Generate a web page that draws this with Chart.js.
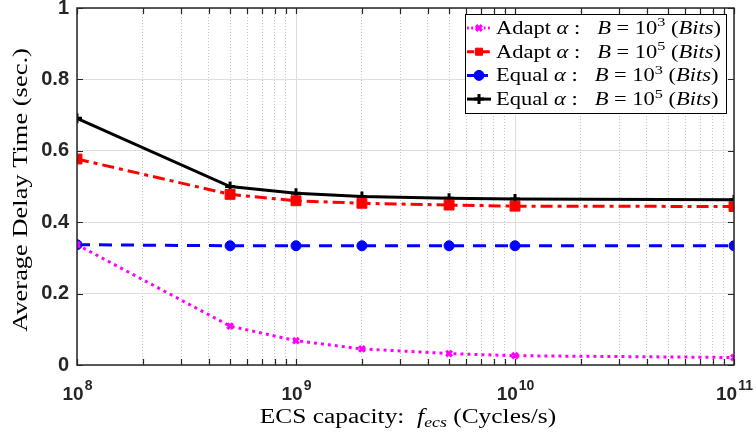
<!DOCTYPE html>
<html>
<head>
<meta charset="utf-8">
<script src="https://cdn.jsdelivr.net/npm/chart.js@4.4.1/dist/chart.umd.min.js"></script>
<style>
  html, body { margin: 0; padding: 0; background: #fff; }
  #wrap { width: 756px; height: 440px; }
</style>
</head>
<body>
<div id="wrap"><canvas id="delayChart" width="756" height="440"></canvas></div>
<script>
// ECS capacity (cycles/s) and average delay (sec.)
var capacity = [1e8, 5e8, 1e9, 2e9, 5e9, 1e10, 1e11];
var adaptB3 = [0.337, 0.109, 0.068, 0.045, 0.032, 0.026, 0.021];
var adaptB5 = [0.577, 0.478, 0.460, 0.453, 0.448, 0.445, 0.444];
var equalB3 = [0.337, 0.334, 0.334, 0.334, 0.334, 0.334, 0.334];
var equalB5 = [0.691, 0.500, 0.481, 0.472, 0.467, 0.465, 0.463];

var xDecades = [1e8, 1e9, 1e10, 1e11];
var yTicks = [0, 0.2, 0.4, 0.6, 0.8, 1];

var seriesNames = ["Adapt", "Adapt", "Equal", "Equal"];
var seriesExp = ["3", "5", "3", "5"];

var axisInk = "#262626";
var serif = "'Liberation Serif', 'DejaVu Serif', serif";
var sans = "'Liberation Sans', Arial, sans-serif";

function pts(vals) {
  return capacity.map(function (c, i) { return { x: c, y: vals[i] }; });
}

// all x tick positions: decades plus 2..9 minors
var xAllTicks = [];
xDecades.forEach(function (d, k) {
  xAllTicks.push(d);
  if (k < xDecades.length - 1) {
    for (var m = 2; m <= 9; m++) xAllTicks.push(d * m);
  }
});

function isDecade(v) {
  var l = Math.log10(v);
  return Math.abs(l - Math.round(l)) < 1e-9;
}

var datasets = [
  {
    data: pts(adaptB3), borderColor: "#ff00ff", backgroundColor: "#ff00ff",
    borderWidth: 3, borderDash: [3, 4], pointStyle: "crossRot",
    pointRadius: 4, pointBorderWidth: 3
  },
  {
    data: pts(adaptB5), borderColor: "#ff0000", backgroundColor: "#ff0000",
    borderWidth: 3, borderDash: [12, 5, 4, 5], pointStyle: "rect",
    pointRadius: 7, pointBorderWidth: 1
  },
  {
    data: pts(equalB3), borderColor: "#0000ff", backgroundColor: "#0000ff",
    borderWidth: 3, borderDash: [13, 9], pointStyle: "circle",
    pointRadius: 5, pointBorderWidth: 1
  },
  {
    data: pts(equalB5), borderColor: "#000000", backgroundColor: "#000000",
    borderWidth: 3, pointStyle: "cross",
    pointRadius: 5, pointBorderWidth: 3
  }
];

// draw a line of mixed-style text runs, stretched horizontally by sx
function drawRuns(ctx, runs, x, y, size, align, sx) {
  sx = sx || 1;
  function fontFor(style) {
    if (style === "italic") return "italic " + size + "px " + serif;
    if (style === "sub") return "italic " + Math.round(size * 0.7) + "px " + serif;
    if (style === "sup") return Math.round(size * 0.7) + "px " + serif;
    return size + "px " + serif;
  }
  var widths = runs.map(function (r) {
    ctx.font = fontFor(r[1]);
    return ctx.measureText(r[0]).width;
  });
  var total = widths.reduce(function (s, w) { return s + w; }, 0);
  var start = align === "center" ? x - total * sx / 2 : x;
  ctx.save();
  ctx.translate(start, y);
  ctx.scale(sx, 1);
  ctx.textAlign = "left";
  ctx.textBaseline = "alphabetic";
  var cx = 0;
  runs.forEach(function (r, i) {
    ctx.font = fontFor(r[1]);
    var dy = r[1] === "sub" ? size * 0.22 : (r[1] === "sup" ? -size * 0.42 : 0);
    ctx.fillText(r[0], cx, dy);
    cx += widths[i];
  });
  ctx.restore();
}

// frame, inward ticks, x labels with exponents, axis titles, legend
var decorPlugin = {
  id: "decor",
  afterDraw: function (chart) {
    var ctx = chart.ctx;
    var a = chart.chartArea;
    var xs = chart.scales.x, ys = chart.scales.y;
    ctx.save();

    // frame
    ctx.strokeStyle = axisInk;
    ctx.lineWidth = 1.5;
    ctx.strokeRect(a.left, a.top, a.right - a.left, a.bottom - a.top);

    // inward ticks
    ctx.lineWidth = 1.2;
    ctx.beginPath();
    xAllTicks.forEach(function (v) {
      var px = Math.round(xs.getPixelForValue(v)) + 0.5;
      ctx.moveTo(px, a.bottom); ctx.lineTo(px, a.bottom - 6);
      ctx.moveTo(px, a.top); ctx.lineTo(px, a.top + 6);
    });
    yTicks.forEach(function (v) {
      var py = Math.round(ys.getPixelForValue(v)) + 0.5;
      ctx.moveTo(a.left, py); ctx.lineTo(a.left + 6, py);
      ctx.moveTo(a.right, py); ctx.lineTo(a.right - 6, py);
    });
    ctx.stroke();

    // x tick labels 10^n
    ctx.fillStyle = axisInk;
    ctx.textBaseline = "alphabetic";
    xDecades.forEach(function (d) {
      var px = xs.getPixelForValue(d);
      var exp = String(Math.round(Math.log10(d)));
      ctx.font = "bold 19px " + sans;
      var wBase = ctx.measureText("10").width;
      ctx.font = "bold 14px " + sans;
      var wExp = ctx.measureText(exp).width;
      var x0 = px - (wBase + wExp) / 2;
      ctx.font = "bold 19px " + sans;
      ctx.textAlign = "left";
      ctx.fillText("10", x0, 400);
      ctx.font = "bold 14px " + sans;
      ctx.fillText(exp, x0 + wBase + 1, 390);
    });

    // x axis title
    ctx.fillStyle = "#000";
    drawRuns(ctx, [
      ["ECS capacity:  ", ""], ["f", "italic"], ["ecs", "sub"], [" (Cycles/s)", ""]
    ], 408, 423, 20, "center", 1.27);

    // y axis title
    ctx.save();
    ctx.translate(27, 190);
    ctx.rotate(-Math.PI / 2);
    drawRuns(ctx, [["Average Delay Time (sec.)", ""]], 0, 0, 21, "center", 1.26);
    ctx.restore();

    // legend
    var lx = 465, ly = 14, lw = 261, lh = 99;
    ctx.fillStyle = "#fff";
    ctx.fillRect(lx, ly, lw, lh);
    ctx.strokeStyle = "#000";
    ctx.lineWidth = 1;
    ctx.strokeRect(lx + 0.5, ly + 0.5, lw, lh);
    datasets.forEach(function (ds, i) {
      var rowY = ly + 14 + i * 23.7;
      ctx.save();
      ctx.strokeStyle = ds.borderColor;
      ctx.lineWidth = ds.borderWidth;
      ctx.setLineDash(ds.borderDash ? ds.borderDash.map(function (n) { return n * 0.6; }) : []);
      ctx.beginPath();
      ctx.moveTo(lx + 2, rowY); ctx.lineTo(lx + 26, rowY);
      ctx.stroke();
      ctx.setLineDash([]);
      ctx.fillStyle = ds.backgroundColor;
      ctx.lineWidth = ds.pointBorderWidth;
      Chart.helpers.drawPoint(ctx, {
        pointStyle: ds.pointStyle, radius: Math.min(ds.pointRadius, 5), rotation: 0,
        borderWidth: ds.pointBorderWidth
      }, lx + 14, rowY);
      ctx.restore();
      ctx.fillStyle = "#000";
      drawRuns(ctx, [
        [seriesNames[i] + " ", ""], ["\u03b1", "italic"], [" :   ", ""], ["B", "italic"],
        [" = 10", ""], [seriesExp[i], "sup"], [" (", ""], ["Bits", "italic"], [")", ""]
      ], lx + 31, rowY + 6, 18, "left", 1.25);
    });

    ctx.restore();
  }
};

new Chart("delayChart", {
  type: "line",
  data: { datasets: datasets },
  plugins: [decorPlugin],
  options: {
    responsive: false,
    animation: false,
    devicePixelRatio: 1,
    layout: { padding: { top: 6, right: 22, left: 0, bottom: 0 } },
    plugins: { legend: { display: false }, tooltip: { enabled: false } },
    scales: {
      x: {
        type: "logarithmic",
        min: 1e8,
        max: 1e11,
        afterBuildTicks: function (scale) {
          scale.ticks = xAllTicks.map(function (v) { return { value: v, major: isDecade(v) }; });
        },
        afterFit: function (scale) {
          scale.height = 75;
          scale.paddingLeft = 0;
          scale.paddingRight = 0;
        },
        ticks: { display: false },
        grid: {
          drawTicks: false,
          color: function (c) {
            return c.tick && isDecade(c.tick.value) ? "#dedede" : "#c8c8c8";
          },
          lineWidth: 1
        },
        border: {
          display: false,
          dash: function (c) {
            return c.tick && !isDecade(c.tick.value) ? [1, 2] : [];
          }
        }
      },
      y: {
        min: 0,
        max: 1,
        afterBuildTicks: function (scale) {
          scale.ticks = yTicks.map(function (v) { return { value: v }; });
        },
        afterFit: function (scale) {
          scale.width = 77;
          scale.paddingTop = 0;
          scale.paddingBottom = 0;
        },
        ticks: {
          color: axisInk,
          font: { family: sans, size: 20, weight: "bold" },
          padding: 8,
          callback: function (v) { return String(v); }
        },
        grid: { drawTicks: false, color: "#dedede", lineWidth: 1 },
        border: { display: false }
      }
    }
  }
});
</script>
</body>
</html>
